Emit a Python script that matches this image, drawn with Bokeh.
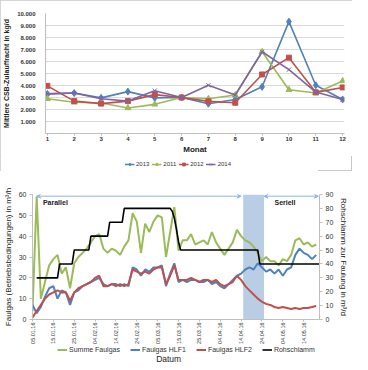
import math
import pandas as pd
from bokeh.plotting import figure
from bokeh.layouts import column
from bokeh.models import (Range1d, LinearAxis, FixedTicker, Legend, LegendItem,
                          BoxAnnotation, Arrow, VeeHead, Label,
                          DatetimeTickFormatter)
from bokeh.embed import file_html
from bokeh.resources import INLINE

FONT = "Liberation Sans"

# ---------------- top chart data ----------------
months = list(range(1, 13))
y_ticks = [1000, 2000, 3000, 4000, 5000, 6000, 7000, 8000, 9000, 10000]
y_tick_labels = ["1.000", "2.000", "3.000", "4.000", "5.000", "6.000", "7.000", "8.000", "9.000", "10.000"]
v2013 = [3300, 3370, 2970, 3490, 2970, 3000, 2480, 2840, 3890, 9320, 4020, 2840]
v2011 = [2890, 2600, 2540, 2130, 2430, 3000, 2890, 3210, 6810, 3650, 3370, 4380]
v2012 = [3970, 2700, 2490, 2700, 3240, 3000, 2680, 2560, 4920, 6320, 3430, 3840]
v2014 = [3300, 3370, 2890, 2700, 3570, 3000, 4020, 3210, 6810, 5320, 3450, 2840]

# ---------------- bottom chart data ----------------
gas_dates = pd.date_range("2016-01-05", periods=69, freq="2D")
summe = [4, 59, 10, 18, 26, 29, 31, 22, 25, 15,
         27, 30, 32, 34, 37, 40, 41, 34, 32, 34,
         33, 31, 35, 38, 51, 47, 32, 46, 42, 47,
         50, 49, 30, 42, 54, 33, 38, 38, 41, 36,
         37, 38, 36, 42, 37, 34, 31, 34, 37, 43,
         40, 38, 37, 35, 32, 28, 30, 28, 28, 26,
         29, 28, 31, 38, 39, 36, 37, 35, 36]
hlf1 = [7, 3, 6, 11, 15, 16, 10, 14, 13, 7,
        13, 14, 16, 17, 18, 19, 20, 17, 16, 17,
        17, 16, 17, 16, 25, 24, 21, 24, 23, 25,
        25, 26, 16, 22, 27, 18, 19, 18, 19, 19,
        18, 18, 19, 17, 18, 16, 15, 17, 19, 21,
        22, 24, 25, 24, 27, 25, 23, 24, 22, 24,
        21, 24, 25, 31, 34, 32, 31, 29, 31]
hlf2 = [1, 4, 7, 10, 12, 13, 14, 13, 13, 9,
        13, 15, 16, 17, 18, 20, 21, 16, 16, 17,
        16, 17, 16, 17, 24, 23, 22, 23, 22, 24,
        25, 25, 17, 21, 26, 19, 19, 19, 20, 19,
        18, 19, 19, 18, 19, 17, 16, 17, 18, 21,
        19, 16, 14, 12, 10, 8.5, 7.5, 7, 6, 5.5,
        6, 5.5, 5, 5.5, 5, 5.5, 5.5, 6, 6.5]
roh_dates = ["2016-01-07", "2016-01-17", "2016-01-18", "2016-01-24", "2016-01-25",
             "2016-02-01", "2016-02-02", "2016-02-10", "2016-02-11", "2016-02-17",
             "2016-02-18", "2016-03-11", "2016-03-12", "2016-03-13", "2016-03-14",
             "2016-03-15", "2016-03-16", "2016-04-22", "2016-04-23", "2016-05-22"]
roh_vals = [30, 30, 40, 40, 50, 50, 60, 60, 70, 70, 80, 80, 78, 73, 65, 56, 50, 50, 40, 40]
date_tick_labels = ["05.01.16", "15.01.16", "25.01.16", "04.02.16", "14.02.16", "24.02.16",
                    "05.03.16", "15.03.16", "25.03.16", "04.04.16", "14.04.16", "24.04.16",
                    "04.05.16", "14.05.16"]
band = ("2016-04-15", "2016-04-25")
phase_parallel = ("2016-01-07", "2016-04-14")
phase_seriell = ("2016-04-25", "2016-05-21")

def ms(s):
    return pd.Timestamp(s).value / 1e6

# placeholder position (outside the visible range) for legend-only renderers
HIDDEN = [-1000]

def legend_fig(width, height):
    f = figure(width=width, height=height, x_range=Range1d(0, width), y_range=Range1d(0, height),
               output_backend="svg", toolbar_location=None,
               x_axis_location=None, y_axis_location=None,
               min_border=0, min_border_left=0, min_border_right=0,
               min_border_top=0, min_border_bottom=0)
    f.outline_line_color = None
    f.xgrid.visible = False
    f.ygrid.visible = False
    return f

# ---------------- top figure ----------------
p1 = figure(width=352, height=156, x_range=Range1d(0.93, 12.07), y_range=Range1d(0, 10000),
            output_backend="svg", toolbar_location=None,
            min_border_left=38, min_border_right=8, min_border_top=13, min_border_bottom=20)
p1.outline_line_color = None

series = [("2013", v2013, "#4F81BD", "diamond", 7),
          ("2011", v2011, "#9BBB59", "triangle", 6),
          ("2012", v2012, "#C0504D", "square", 5),
          ("2014", v2014, "#8064A2", "x", 6)]
for name, vals, col, mk, sz in series:
    p1.line(months, vals, line_color=col, line_width=1.6)
    p1.scatter(months, vals, marker=mk, size=sz, fill_color=col, line_color=col)

p1.yaxis.ticker = FixedTicker(ticks=y_ticks)
p1.yaxis.major_label_overrides = {t: lab for t, lab in zip(y_ticks, y_tick_labels)}
p1.ygrid.ticker = FixedTicker(ticks=y_ticks)
p1.ygrid.grid_line_color = "#d9d9d9"
p1.xgrid.grid_line_color = None
p1.xaxis.ticker = FixedTicker(ticks=months)
for ax in (p1.xaxis[0], p1.yaxis[0]):
    ax.major_label_text_font = FONT
    ax.major_label_text_font_size = "6px"
    ax.major_label_text_font_style = "bold"
    ax.major_label_text_color = "#333333"
    ax.axis_line_color = "#bfbfbf"
    ax.major_tick_line_color = "#bfbfbf"
    ax.minor_tick_line_color = None
    ax.axis_label_text_font = FONT
    ax.axis_label_text_font_style = "bold"
    ax.axis_label_text_color = "#222222"
p1.yaxis.major_tick_line_color = None
p1.xaxis.major_tick_in = 0
p1.xaxis.major_tick_out = 2
p1.yaxis.axis_label = "Mittlere CSB-Zulauffracht in kg/d"
p1.yaxis.axis_label_text_font_size = "7px"
p1.yaxis.axis_label_standoff = 4
p1.yaxis.major_label_standoff = 4
p1.xaxis.axis_label = "Monat"
p1.xaxis.axis_label_text_font_size = "8px"
p1.xaxis.axis_label_standoff = 1
p1.xaxis.major_label_standoff = 1

# legend strip of the top chart
lf1 = legend_fig(318, 15)
items1 = []
for name, vals, col, mk, sz in series:
    l = lf1.line(HIDDEN, HIDDEN, line_color=col, line_width=1.6)
    s = lf1.scatter(HIDDEN, HIDDEN, marker=mk, size=sz - 1, fill_color=col, line_color=col)
    items1.append(LegendItem(label=name, renderers=[l, s]))
lf1.add_layout(Legend(items=items1, orientation="horizontal", location="center",
                      label_text_font=FONT, label_text_font_size="6px", label_text_color="#333333",
                      glyph_width=10, glyph_height=7, label_height=7, label_width=12,
                      label_standoff=2, spacing=2, padding=0, margin=0,
                      border_line_color=None, background_fill_alpha=0))

# ---------------- bottom figure ----------------
p2 = figure(width=352, height=175, x_axis_type="datetime",
            x_range=Range1d(ms("2016-01-05"), ms("2016-05-21 14:00")),
            y_range=Range1d(0, 60), output_backend="svg", toolbar_location=None,
            min_border_left=32, min_border_right=33, min_border_top=23, min_border_bottom=27)
p2.outline_line_color = None
p2.xgrid.grid_line_color = None
p2.ygrid.grid_line_color = None
p2.extra_y_ranges = {"r": Range1d(0, 90)}

p2.add_layout(BoxAnnotation(left=ms(band[0]), right=ms(band[1]), fill_color="#b9cde5",
                            fill_alpha=1, line_color=None, level="underlay"))

gas_series = [("Summe Faulgas", summe, "#9BBB59"),
              ("Faulgas HLF1", hlf1, "#4F81BD"),
              ("Faulgas HLF2", hlf2, "#C0504D")]
for name, vals, col in gas_series:
    p2.line(gas_dates, vals, line_color=col, line_width=2)
p2.line(pd.to_datetime(roh_dates), roh_vals, line_color="black", line_width=1.6, y_range_name="r")

arrow_col = "#8eb4e3"
for a, b in (phase_parallel, phase_seriell):
    p2.add_layout(Arrow(x_start=ms(a), y_start=59.2, x_end=ms(b), y_end=59.2,
                        line_color=arrow_col, line_width=1,
                        start=VeeHead(size=4, line_color=arrow_col, fill_color=arrow_col),
                        end=VeeHead(size=4, line_color=arrow_col, fill_color=arrow_col)))
p2.add_layout(Label(x=ms("2016-01-10"), y=56.3, text="Parallel", text_font=FONT,
                    text_font_size="7px", text_font_style="bold", text_baseline="middle",
                    text_color="#222222"))
p2.add_layout(Label(x=ms("2016-04-30"), y=56.3, text="Seriell", text_font=FONT,
                    text_font_size="7px", text_font_style="bold", text_baseline="middle",
                    text_color="#222222"))

raxis = LinearAxis(y_range_name="r", axis_label="Rohschlamm zur Faulung in m³/d",
                   ticker=FixedTicker(ticks=[0, 10, 20, 30, 40, 50, 60, 70, 80, 90]))
p2.add_layout(raxis, "right")

p2.yaxis[0].ticker = FixedTicker(ticks=[0, 10, 20, 30, 40, 50, 60])
p2.yaxis[0].axis_label = "Faulgas (Betriebsbedingungen) in m³/h"
tick_ms = [ms(pd.to_datetime(t, format="%d.%m.%y")) for t in date_tick_labels]
p2.xaxis.ticker = FixedTicker(ticks=tick_ms)
p2.xaxis.formatter = DatetimeTickFormatter(days="%d.%m.%y", months="%d.%m.%y", years="%d.%m.%y")
p2.xaxis.major_label_orientation = math.pi / 2
for ax in (p2.xaxis[0], p2.yaxis[0], raxis):
    ax.major_label_text_font = FONT
    ax.major_label_text_font_size = "7px"
    ax.major_label_text_color = "#333333"
    ax.axis_line_color = "#bfbfbf"
    ax.major_tick_line_color = "#bfbfbf"
    ax.major_tick_in = 0
    ax.major_tick_out = 3
    ax.minor_tick_line_color = None
    ax.axis_label_text_font = FONT
    ax.axis_label_text_font_size = "8px"
    ax.axis_label_text_font_style = "normal"
    ax.axis_label_text_color = "#222222"
    ax.axis_label_standoff = 3
    ax.major_label_standoff = 3
p2.xaxis.major_label_text_font_size = "5.5px"
p2.xaxis.major_label_standoff = 1
p2.xaxis.major_tick_out = 2

# legend strip + axis title of the bottom chart
lf2 = legend_fig(352, 17)
items2 = []
for name, vals, col in gas_series:
    items2.append(LegendItem(label=name,
                             renderers=[lf2.line(HIDDEN, HIDDEN, line_color=col, line_width=2)]))
items2.append(LegendItem(label="Rohschlamm",
                         renderers=[lf2.line(HIDDEN, HIDDEN, line_color="black", line_width=1.6)]))
lf2.add_layout(Legend(items=items2, orientation="horizontal", location=(25, 10),
                      label_text_font=FONT, label_text_font_size="7px", label_text_color="#333333",
                      glyph_width=10, glyph_height=7, label_height=7, label_standoff=2,
                      spacing=10, padding=0, margin=0,
                      border_line_color=None, background_fill_alpha=0))
lf2.add_layout(Label(x=167, y=5, text="Datum", text_font=FONT, text_font_size="8.5px",
                     text_align="center", text_baseline="middle", text_color="#222222"))

top = column(p1, lf1, styles={"outline": "1px solid #c8c8c8", "outline-offset": "-1px"})
layout = column(top, p2, lf2)
open("out.html", "w").write(file_html(layout, INLINE))
